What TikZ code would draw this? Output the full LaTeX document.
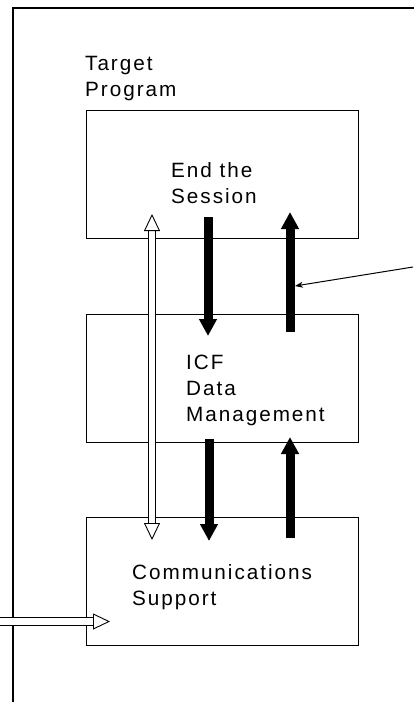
\documentclass[tikz,border=0pt]{standalone}
\usepackage{fontspec}
\setmainfont[LetterSpace=9.5]{Liberation Sans}
\usetikzlibrary{arrows.meta}
\tikzset{hollowtip/.tip={Triangle[open,length=17pt,width=16pt,line width=0.9pt]}}
\begin{document}
\begin{tikzpicture}[x=1pt,y=-1pt,
  every node/.style={inner sep=0pt},
  label text/.style={anchor=north west,align=left,font=\fontsize{20.7}{26}\selectfont},
  layer/.style={draw,line width=1pt,minimum width=272pt,minimum height=128pt},
  flow/.style={line width=9pt,-{Triangle[length=17pt,width=17pt]}},
  hollow/.style={double,double distance=6.5pt,line width=0.9pt},
  pointer/.style={line width=1pt,-{Stealth[length=8pt,width=6pt]}}]
  \useasboundingbox (0,0) rectangle (414,702);
  % outer frame
  \draw[line width=1.3pt] (13,702) -- (13,8) -- (414,8);
  \node[label text] (title) at (85,56.3) {Target\\Program};
  % the three layers
  \node[layer] (app) at (222,174) {};
  \node[layer] (icf) at (222,378.5) {};
  \node[layer] (comm) at (222,581) {};
  \node[label text] (appname) at (171,162) {End the\\Session};
  \node[label text] (icfname) at (186,355) {ICF\\Data\\Management};
  \node[label text] (commname) at (132,564) {Communications\\Support};
  % request and response flows
  \coordinate (d1s) at (208,217); \coordinate (d1e) at (208,336);
  \coordinate (u1s) at (290,332); \coordinate (u1e) at (290,212);
  \coordinate (d2s) at (209,439); \coordinate (d2e) at (209,541);
  \coordinate (u2s) at (290,538); \coordinate (u2e) at (290,437);
  \draw[flow] (d1s) -- (d1e);
  \draw[flow] (u1s) -- (u1e);
  \draw[flow] (d2s) -- (d2e);
  \draw[flow] (u2s) -- (u2e);
  % session link from the target program to communications support
  \coordinate (s1) at (152,214); \coordinate (s2) at (152,540);
  \draw[hollow,hollowtip-hollowtip] (s1) -- (s2);
  % network input
  \coordinate (net) at (0,621.5); \coordinate (netin) at (110,621.5);
  \draw[hollow,-hollowtip] (net) -- (netin);
  % callout pointer
  \coordinate (callout) at (413,267); \coordinate (callend) at (295,286);
  \draw[pointer] (callout) -- (callend);
\end{tikzpicture}
\end{document}
